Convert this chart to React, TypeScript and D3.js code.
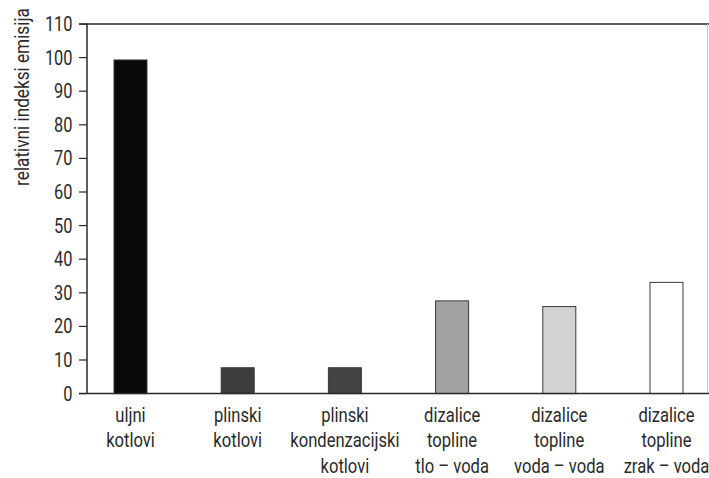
import React from "react";
import * as d3 from "d3";

const categories: string[][] = [
  ["uljni", "kotlovi"],
  ["plinski", "kotlovi"],
  ["plinski", "kondenzacijski", "kotlovi"],
  ["dizalice", "topline", "tlo – voda"],
  ["dizalice", "topline", "voda – voda"],
  ["dizalice", "topline", "zrak – voda"],
];
const values: number[] = [99.3, 7.7, 7.7, 27.6, 25.9, 33.1];
const barColors: string[] = ["#080808", "#3d3d3d", "#444444", "#a2a2a2", "#d2d2d2", "#ffffff"];
const yTicks: number[] = [0, 10, 20, 30, 40, 50, 60, 70, 80, 90, 100, 110];
const yLabel = "relativni indeksi emisija";

const W = 709;
const H = 478;
const FONT = "Roboto, 'Noto Sans', sans-serif";

export default function App() {
  const left = 87;
  const top = 24;
  const bottom = 393.6;
  const right = 709;
  const y = d3.scaleLinear().domain([0, 110]).range([bottom, top]);
  const x = d3
    .scalePoint<number>()
    .domain(d3.range(categories.length))
    .range([130.5, 666.5]);
  const bw = 33;

  return (
    <svg
      width={W}
      height={H}
      style={{ position: "absolute", left: 0, top: 0, background: "#fff" }}
      fontFamily={FONT}
    >
      <rect x={0} y={0} width={W} height={H} fill="#fff" />
      {/* top border and right border */}
      <line x1={79} x2={right} y1={y(110)} y2={y(110)} stroke="#2a2a2a" strokeWidth={1.5} />
      <line x1={707.5} x2={707.5} y1={y(110)} y2={bottom} stroke="#c8c8c8" strokeWidth={1} />
      {/* bars */}
      {values.map((v, i) => (
        <rect
          key={i}
          x={(x(i) as number) - bw / 2}
          y={y(v)}
          width={bw}
          height={bottom - y(v)}
          fill={barColors[i]}
          stroke="#3a3a3a"
          strokeWidth={1}
        />
      ))}
      {/* y axis */}
      <line x1={left} x2={left} y1={top} y2={bottom} stroke="#2a2a2a" strokeWidth={1.5} />
      {yTicks.map((t) => (
        <g key={t}>
          <line x1={79} x2={left} y1={y(t)} y2={y(t)} stroke="#2a2a2a" strokeWidth={1.2} />
          <text
            transform={`translate(72.5, ${y(t) + 7}) scale(0.82, 1)`}
            textAnchor="end"
            fontSize={20}
            fill="#2a2a2a"
          >
            {t}
          </text>
        </g>
      ))}
      {/* baseline */}
      <line x1={79} x2={right} y1={bottom} y2={bottom} stroke="#2a2a2a" strokeWidth={1.5} />
      {/* category labels */}
      {categories.map((lines, i) => (
        <g key={i} transform={`translate(${x(i) as number}, 0) scale(0.79, 1)`}>
          <text textAnchor="middle" fontSize={21} fill="#2a2a2a">
            {lines.map((l, j) => (
              <tspan key={j} x={0} y={421.7 + j * 25.6}>
                {l}
              </tspan>
            ))}
          </text>
        </g>
      ))}
      {/* y label */}
      <text
        transform={`translate(29, 97) rotate(-90) scale(0.86, 1)`}
        textAnchor="middle"
        fontSize={20}
        fill="#2a2a2a"
      >
        {yLabel}
      </text>
    </svg>
  );
}
